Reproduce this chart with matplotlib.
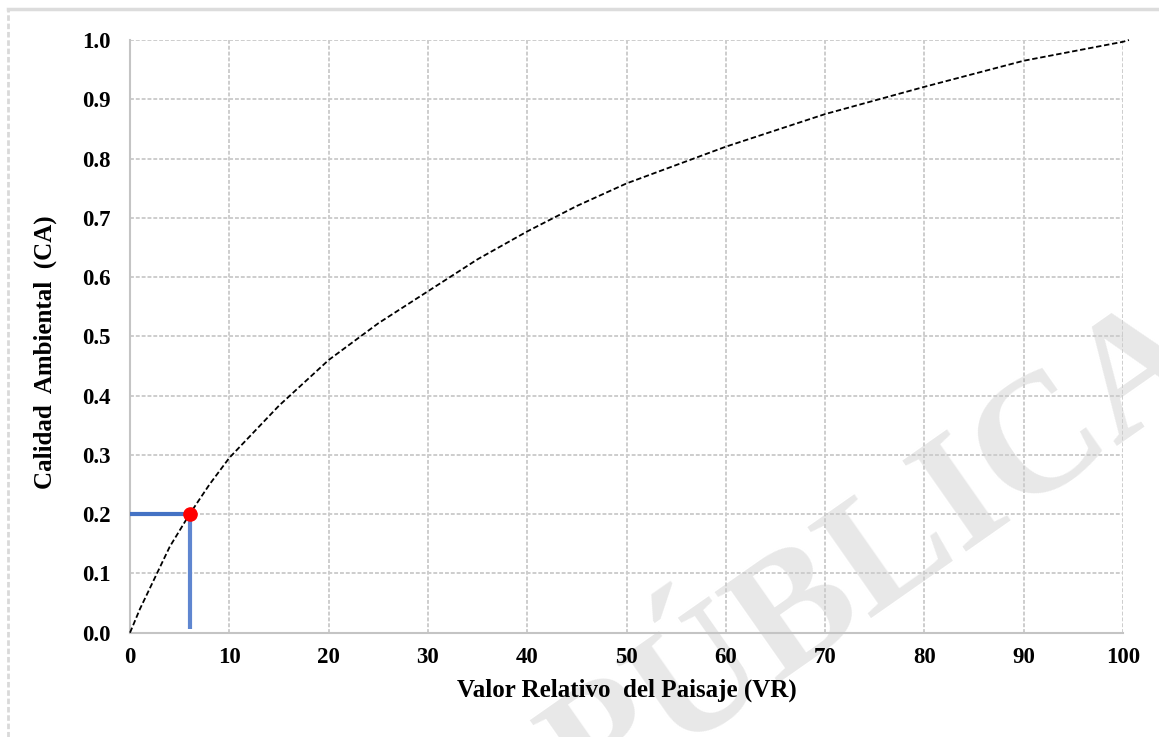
import matplotlib
matplotlib.use("Agg")
import matplotlib.pyplot as plt
from matplotlib.lines import Line2D

# curve
vr = [0, 1, 2, 4, 6, 8, 10, 15, 20, 25, 30, 35, 40, 45, 50, 60, 70, 80, 90, 100, 100.6]
ca = [0, 0.04, 0.075, 0.145, 0.2, 0.25, 0.295, 0.383, 0.46, 0.522, 0.576, 0.63, 0.677, 0.72, 0.758,
      0.82, 0.875, 0.921, 0.965, 0.997, 1.0]

# highlighted point
pt_x = 6
pt_y = 0.2

xticks = list(range(0, 101, 10))
yticks = [i / 10 for i in range(0, 11)]

font = {'family': 'Liberation Serif', 'weight': 'bold', 'color': 'black'}

fig = plt.figure(figsize=(11.59, 7.37), dpi=100)
fig.patch.set_facecolor('white')
ax = fig.add_axes([130 / 1159, 1 - 632.7 / 737, (1123 - 130) / 1159, (632.7 - 40) / 737])
ax.set_facecolor('none')
ax.set_zorder(2)

# watermark behind everything
fig.text(880 / 1159, 1 - 560 / 737, 'PÚBLICA', fontsize=122, fontfamily='Liberation Serif',
         fontweight='bold', color='#e8e8e8', rotation=35, ha='center', va='center',
         rotation_mode='anchor', zorder=0)

# frame of the figure (top and left only visible)
fig.add_artist(Line2D([8 / 1159, 8 / 1159], [0, 1 - 9 / 737], color='#d9d9d9', lw=2,
                      linestyle=(0, (2, 1)), transform=fig.transFigure))
fig.add_artist(Line2D([8 / 1159, 1], [1 - 9 / 737, 1 - 9 / 737], color='#dcdcdc', lw=2.5,
                      transform=fig.transFigure))

ax.plot(vr, ca, color='black', lw=1.3, linestyle=(0, (3, 1.5)), zorder=4, clip_on=False)

ax.plot([0, pt_x], [pt_y, pt_y], color='#4472c4', lw=3, zorder=3, solid_capstyle='butt')
ax.plot([pt_x, pt_x], [0.007, pt_y], color='#5f86d0', lw=3, zorder=3, solid_capstyle='butt')
ax.plot([pt_x], [pt_y], 'o', color='#ff0000', markersize=9.5, zorder=5)

ax.set_xlim(0, 100)
ax.set_ylim(0, 1.0)
ax.set_xticks(xticks)
ax.set_yticks(yticks)
ax.set_xticklabels([str(t) for t in xticks])
ax.set_yticklabels(['%.1f' % t for t in yticks])
for lab in ax.get_xticklabels() + ax.get_yticklabels():
    lab.set_fontfamily('Liberation Serif')
    lab.set_fontweight('bold')
    lab.set_fontsize(16.5)
ax.tick_params(axis='both', length=0)
ax.tick_params(axis='y', pad=14)
ax.tick_params(axis='x', pad=10)

ax.grid(True, color='#cdcdcd', lw=1.4, linestyle=(0, (2, 1)))
ax.set_axisbelow(True)
for s in ['top', 'right']:
    ax.spines[s].set_visible(False)
for s in ['left', 'bottom']:
    ax.spines[s].set_color('#c4c4c4')
    ax.spines[s].set_linewidth(1.5)

ax.set_xlabel('Valor Relativo  del Paisaje (VR)', fontdict=font, fontsize=18, labelpad=8)
ax.set_ylabel('Calidad  Ambiental  (CA)', fontdict=font, fontsize=18)
ax.yaxis.set_label_coords(-0.0735, 0.474)

fig.savefig('out.png', dpi=100)
